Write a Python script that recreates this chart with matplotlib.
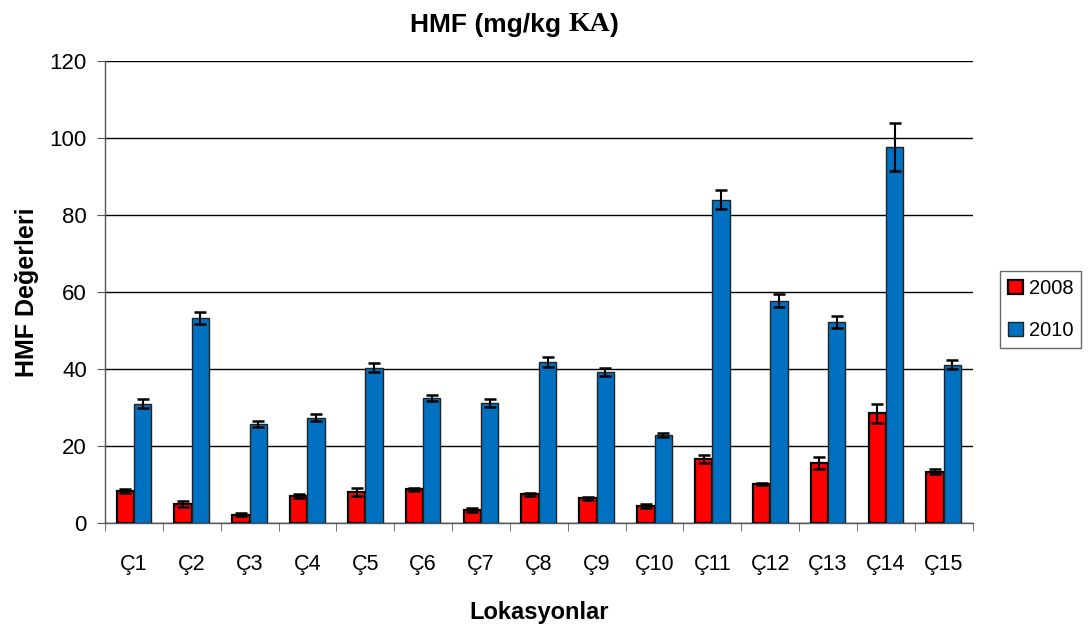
import matplotlib
matplotlib.use('Agg')
import matplotlib.pyplot as plt
import numpy as np

# Data
locations = ['Ç1', 'Ç2', 'Ç3', 'Ç4', 'Ç5', 'Ç6', 'Ç7', 'Ç8', 'Ç9', 'Ç10',
             'Ç11', 'Ç12', 'Ç13', 'Ç14', 'Ç15']
hmf_2008 = [8.3, 4.9, 2.2, 7.1, 8.0, 8.7, 3.4, 7.4, 6.4, 4.4, 16.6, 10.1, 15.5, 28.5, 13.3]
err_2008 = [0.5, 0.8, 0.3, 0.5, 1.0, 0.5, 0.5, 0.5, 0.4, 0.5, 1.0, 0.2, 1.6, 2.4, 0.6]
hmf_2010 = [31.0, 53.2, 25.8, 27.4, 40.3, 32.5, 31.2, 41.8, 39.3, 22.9, 84.0, 57.8, 52.3, 97.6, 41.1]
err_2010 = [1.1, 1.5, 0.8, 1.0, 1.2, 0.8, 1.0, 1.4, 1.0, 0.6, 2.5, 1.7, 1.6, 6.2, 1.2]

plt.rcParams['font.family'] = ['Liberation Sans', 'DejaVu Sans']

fig = plt.figure(figsize=(10.88, 6.37), dpi=100)
ax = fig.add_axes([0.0965, 0.179, 0.7975, 0.725])

x = np.arange(len(locations))
w = 0.3

ax.bar(x - w / 2, hmf_2008, w, color='#ff0000', edgecolor='black', linewidth=1.6,
       label='2008', zorder=3)
ax.bar(x + w / 2, hmf_2010, w, color='#0070c0', edgecolor='#222222', linewidth=1.0,
       label='2010', zorder=3)
ax.errorbar(x - w / 2, hmf_2008, yerr=err_2008, fmt='none', ecolor='black',
            elinewidth=1.5, capsize=4, capthick=1.8, zorder=4)
ax.errorbar(x + w / 2, hmf_2010, yerr=err_2010, fmt='none', ecolor='black',
            elinewidth=1.5, capsize=4, capthick=1.8, zorder=4)

# Axes
ax.set_xlim(-0.5, len(locations) - 0.5)
ax.set_ylim(0, 120)
ax.set_yticks(range(0, 121, 20))
ax.grid(axis='y', color='black', linewidth=1.0, zorder=0)
ax.set_xticks(x)
ax.set_xticklabels(locations, fontsize=15.5)
ax.set_xticks(np.arange(-0.5, len(locations), 1), minor=True)
ax.tick_params(axis='x', which='major', length=0, pad=22)
ax.tick_params(axis='x', which='minor', length=6, direction='out', color='#555555')
ax.tick_params(axis='y', length=6, direction='out', color='#555555', labelsize=16, pad=7)
for s in ['top', 'right']:
    ax.spines[s].set_visible(False)
for s in ['left', 'bottom']:
    ax.spines[s].set_color('#555555')
    ax.spines[s].set_linewidth(1.0)

ax.set_xlabel('Lokasyonlar', fontsize=17, fontweight='bold', labelpad=19)
ax.set_ylabel('HMF Değerleri', fontsize=18, fontweight='bold', labelpad=8)

# Title with serif "KA"
t1 = fig.text(0.377, 0.950, 'HMF (mg/kg ', fontsize=19, fontweight='bold',
              va='baseline', ha='left')
t2 = ax.annotate('KA', xy=(1, 0), xycoords=t1, fontsize=20, fontweight='bold',
                 family='Liberation Serif', va='bottom', ha='left')
ax.annotate(')', xy=(1, 0), xycoords=t2, fontsize=19, fontweight='bold',
            va='bottom', ha='left')

leg = ax.legend(loc='center left', bbox_to_anchor=(1.032, 0.462), fontsize=14.5,
                frameon=True, fancybox=False, edgecolor='#444444',
                handlelength=0.7, handleheight=0.7, handletextpad=0.3,
                borderpad=0.4, labelspacing=1.15, borderaxespad=0)
leg.get_frame().set_linewidth(1.0)

plt.savefig('out.png', dpi=100)
